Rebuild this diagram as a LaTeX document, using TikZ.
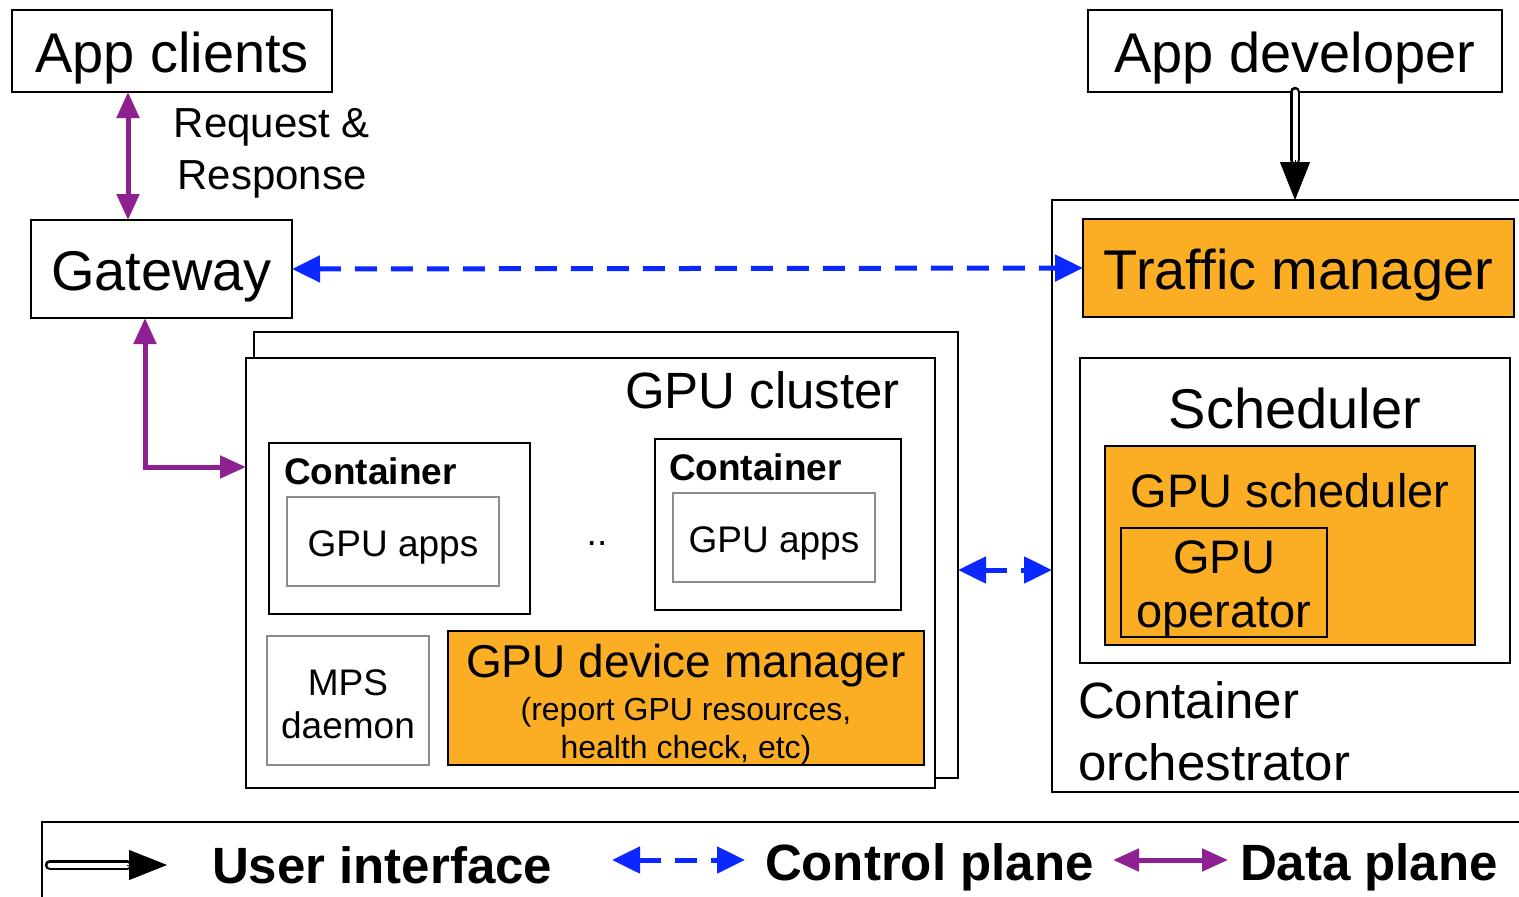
\documentclass[tikz,border=0pt]{standalone}
\usepackage{fontspec}
\setmainfont{Liberation Sans}
\usetikzlibrary{arrows.meta}
\definecolor{orng}{RGB}{251,173,36}
\definecolor{cblue}{RGB}{10,40,255}
\definecolor{dpurp}{RGB}{142,32,146}
\newcommand{\fsz}[1]{\fontsize{#1}{#1}\selectfont}
\begin{document}
\begin{tikzpicture}[x=1pt,y=-1pt,
  box/.style={draw=black, line width=2.8pt, inner sep=0pt, outer sep=0pt, fill=white},
  obox/.style={box, fill=orng},
  gbox/.style={draw=gray!90, line width=2.8pt, inner sep=0pt, outer sep=0pt, fill=white},
  txt/.style={inner sep=0pt, outer sep=0pt},
  dp/.style={draw=dpurp, line width=5pt, {Triangle[length=26pt,width=22pt]}-{Triangle[length=26pt,width=22pt]}},
  cp/.style={draw=cblue, line width=5pt, dash pattern=on 22pt off 14pt, {Triangle[length=28pt,width=26pt]}-{Triangle[length=28pt,width=26pt]}},
  ushaft/.style={line width=2.8pt, double=white, double distance=5pt, line cap=round},
  uhead/.style={line width=1pt, -{Triangle[length=38pt,width=30pt]}}
]
\useasboundingbox (0,0) rectangle (1519,897);

% top boxes
\node[box, minimum width=320pt, minimum height=82pt] (appc) at (172,51) {};
\node[txt, anchor=base] at (172,72) {\fsz{56}App clients};
\node[box, minimum width=414pt, minimum height=82pt] (appdev) at (1295,51) {};
\node[txt, anchor=base] at (1295,72) {\fsz{56}App developer};

\node[txt, anchor=base] at (272,137) {\fsz{42}Request \&};
\node[txt, anchor=base] at (272,189) {\fsz{42}Response};

\node[box, minimum width=261pt, minimum height=98pt] (gw) at (161.5,269) {};
\node[txt, anchor=base] at (161.5,290) {\fsz{56}Gateway};

% container orchestrator (open on the right)
\draw[line width=2.8pt] (1519,200) -- (1052,200) -- (1052,792) -- (1519,792);
\coordinate (orchN) at (1295,200);
\coordinate (orchW) at (1052,570);
\node[obox, minimum width=431pt, minimum height=98pt] (tm) at (1298.5,268) {};
\node[txt, anchor=base] at (1298.5,289) {\fsz{56}Traffic manager};
\node[box, minimum width=430pt, minimum height=305pt] (sched) at (1295,510.5) {};
\node[txt, anchor=base] at (1295,428) {\fsz{56}Scheduler};
\node[obox, minimum width=370pt, minimum height=199pt] (gsched) at (1290,545.5) {};
\node[txt, anchor=base] at (1290,507) {\fsz{47}GPU scheduler};
\node[obox, minimum width=206pt, minimum height=109pt] (gop) at (1224,582.5) {};
\node[txt, anchor=base] at (1224,573) {\fsz{47}GPU};
\node[txt, anchor=base] at (1224,627) {\fsz{47}operator};
\node[txt, anchor=base west] at (1078,718) {\fsz{51}Container};
\node[txt, anchor=base west] at (1078,780) {\fsz{51}orchestrator};

% GPU cluster
\node[box, minimum width=704pt, minimum height=446pt] (clback) at (606,555) {};
\node[box, minimum width=689pt, minimum height=430pt] (clfront) at (590.5,573) {};
\node[txt, anchor=base east] at (900,408) {\fsz{51}GPU cluster};

\node[box, minimum width=261pt, minimum height=171pt] (cont1) at (399.5,528.5) {};
\node[txt, anchor=base west] at (284,484) {\fsz{37}\bfseries Container};
\node[gbox, minimum width=212pt, minimum height=89pt] (apps1) at (393,541.5) {};
\node[txt, anchor=base] at (393,556) {\fsz{37}GPU apps};

\node[txt, anchor=base] (dots) at (597,545) {\fsz{37}..};

\node[box, minimum width=246pt, minimum height=171pt] (cont2) at (778,524.5) {};
\node[txt, anchor=base west] at (669,480) {\fsz{37}\bfseries Container};
\node[gbox, minimum width=202pt, minimum height=89pt] (apps2) at (774,537.5) {};
\node[txt, anchor=base] at (774,552) {\fsz{37}GPU apps};

\node[gbox, minimum width=162pt, minimum height=129pt] (mps) at (348,700.5) {};
\node[txt, anchor=base] at (348,695) {\fsz{37}MPS};
\node[txt, anchor=base] at (348,738) {\fsz{37}daemon};

\node[obox, minimum width=476pt, minimum height=134pt] (gdm) at (686,698) {};
\node[txt, anchor=base] at (686,677) {\fsz{46}GPU device manager};
\node[txt, anchor=base] at (686,720) {\fsz{32}(report GPU resources,};
\node[txt, anchor=base] at (686,758) {\fsz{32}health check, etc)};

% connectors
\draw[dp] (128,0 |- appc.south) -- (128,0 |- gw.north);
\draw[dp] (145,0 |- gw.south) |- (clfront.west |- 0,467);
\draw[cp] (gw.east) -- (tm.west);
\draw[cp] (clback.east |- orchW) -- (orchW);
\coordinate (uimid) at (1295,160);
\draw[ushaft] (appdev.south) -- (uimid);
\draw[uhead] (uimid) -- (orchN);

% legend
\draw[line width=2.8pt] (1519,822) -- (42,822) -- (42,897);
\coordinate (l1a) at (50,865);
\coordinate (l1b) at (127,865);
\coordinate (l1c) at (167,865);
\draw[ushaft] (l1a) -- (l1b);
\draw[uhead] (l1b) -- (l1c);
\node[txt, anchor=base west] at (212,883) {\fsz{51}\bfseries User interface};
\coordinate (l2a) at (612,860);
\coordinate (l2b) at (745,860);
\draw[cp] (l2a) -- (l2b);
\node[txt, anchor=base west] at (765,880) {\fsz{51}\bfseries Control plane};
\coordinate (l3a) at (1113,860);
\coordinate (l3b) at (1228,860);
\draw[dp] (l3a) -- (l3b);
\node[txt, anchor=base west] at (1240,880) {\fsz{51}\bfseries Data plane};
\end{tikzpicture}
\end{document}
